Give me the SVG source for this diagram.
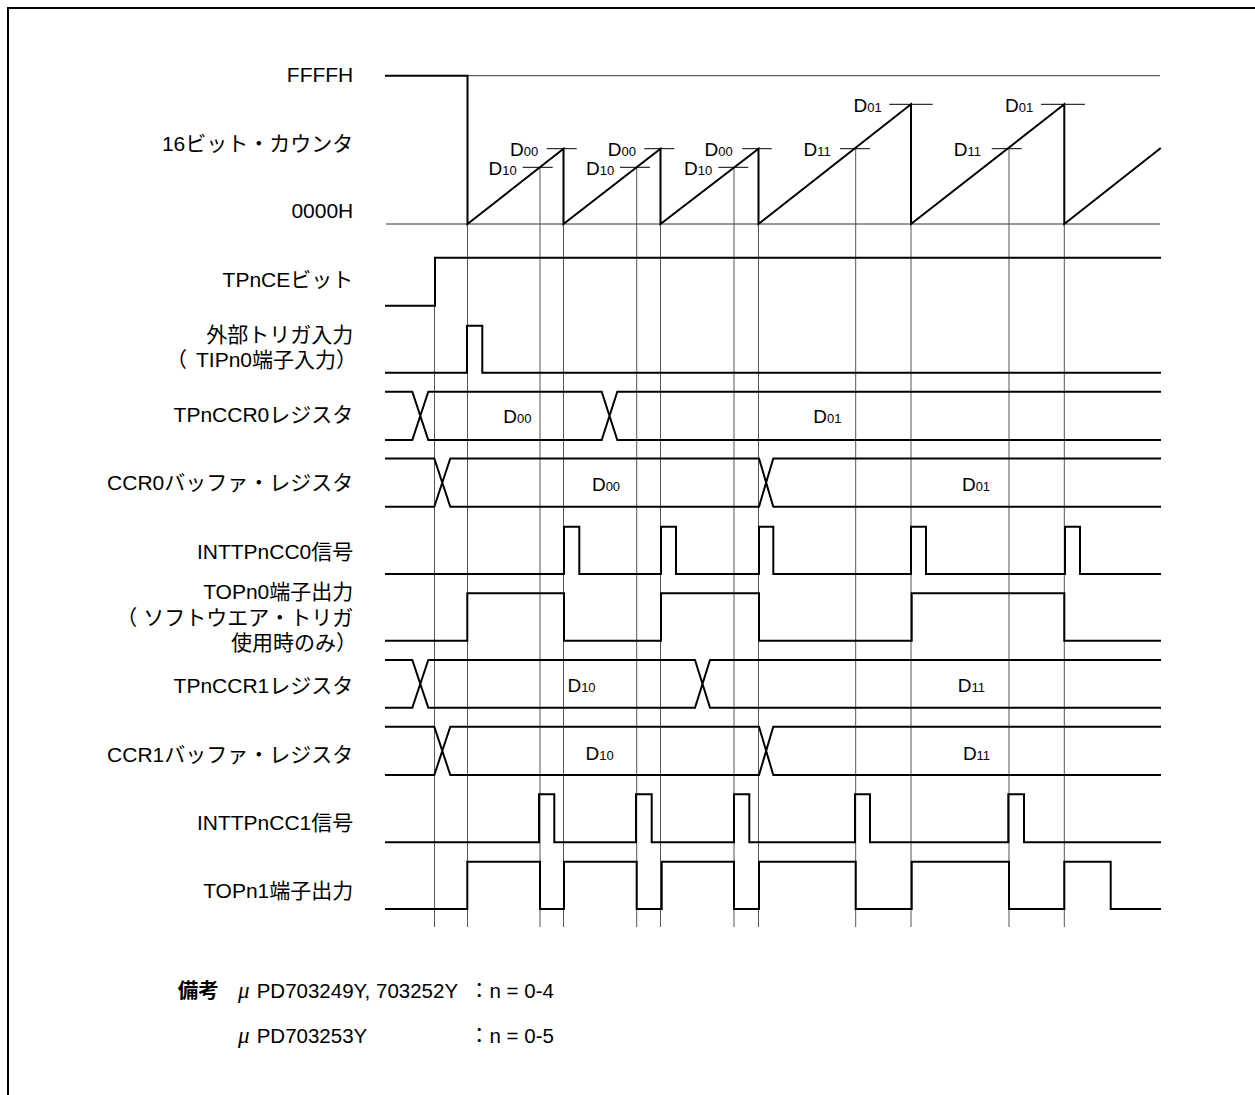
<svg xmlns="http://www.w3.org/2000/svg" width="1255" height="1095" viewBox="0 0 1255 1095">
<style>
.sig{fill:none;stroke:#000;stroke-width:2;stroke-linejoin:miter;stroke-linecap:square}
.grid{fill:none;stroke:#555;stroke-width:1}
.ref{fill:none;stroke:#333;stroke-width:1}
.tick{fill:none;stroke:#000;stroke-width:1}
.frame{fill:none;stroke:#000;stroke-width:2}
.lbl{font-family:"Liberation Sans","Noto Sans CJK JP",sans-serif;font-size:21px;text-anchor:end;fill:#000}
.d{font-family:"Liberation Sans",Arial,sans-serif;font-size:19px;fill:#000}
.dm{text-anchor:middle}
.de{text-anchor:end}
.sub{font-size:13px}
.note{font-family:"Liberation Sans","Noto Sans CJK JP",sans-serif;font-size:20.5px;fill:#000}
.mu{font-family:"Liberation Serif",serif;font-style:italic;font-size:23px}
.bold{font-weight:bold}
</style>
<rect width="1255" height="1095" fill="#fff"/>
<path class="frame" d="M8,1095 V8 H1255"/>

<g id="connectors">
  <path class="ref" d="M467.5,75.7 H1160"/>
  <path class="ref" d="M386,224 H1160"/>
  <path class="grid" d="M434.5,257.7 V927 M467.5,224 V927 M540,167.3 V927 M563.5,224 V927 M636.7,167.3 V927 M660.5,224 V927 M734,167.3 V927 M758.5,224 V927 M855.7,148.7 V927 M911,224 V927 M1009,148.7 V927 M1064.3,224 V927"/>
</g>

<g id="counter">
  <text class="lbl" x="353.3" y="81.7">FFFFH</text>
  <text class="lbl" x="353.3" y="150.5">16ビット・カウンタ</text>
  <text class="lbl" x="353.3" y="218.3">0000H</text>
  <path class="sig" d="M386,75.7 H467.5 V224 L563.5,148.7 V224 L660.5,148.7 V224 L758.5,148.7 V224 L911,104.3 V224 L1064.3,104.3 V224 L1160,148.7"/>
  <path class="tick" d="M546.7,148.7 H576.7 M644.3,148.7 H674.3 M742.3,148.7 H771.7 M522.7,167.3 H552.7 M620,167.3 H650 M718.3,167.3 H748.3 M889.3,104.3 H932.7 M1041,104.3 H1085 M840,148.7 H870 M991.7,148.7 H1021.7"/>
  <text class="d de" x="538.3" y="156">D<tspan class="sub">00</tspan></text>
  <text class="d de" x="636" y="156">D<tspan class="sub">00</tspan></text>
  <text class="d de" x="732.7" y="156">D<tspan class="sub">00</tspan></text>
  <text class="d de" x="516.7" y="175">D<tspan class="sub">10</tspan></text>
  <text class="d de" x="614.3" y="175">D<tspan class="sub">10</tspan></text>
  <text class="d de" x="712.3" y="175">D<tspan class="sub">10</tspan></text>
  <text class="d de" x="881.7" y="112.3">D<tspan class="sub">01</tspan></text>
  <text class="d de" x="1033.3" y="112.3">D<tspan class="sub">01</tspan></text>
  <text class="d de" x="830.7" y="155.7">D<tspan class="sub">11</tspan></text>
  <text class="d de" x="981" y="155.7">D<tspan class="sub">11</tspan></text>
</g>

<g id="tpnce">
  <text class="lbl" x="353.3" y="286.7">TPnCEビット</text>
  <path class="sig" d="M386,305.7 H435 V257.7 H1160"/>
</g>

<g id="trigger">
  <text class="lbl" x="353.3" y="341.7">外部トリガ入力</text>
  <text class="lbl" x="357" y="367.3">（<tspan dx="9">TIPn0端子入力）</tspan></text>
  <path class="sig" d="M386,372.7 H467 V325.7 H482.3 V372.7 H1160"/>
</g>

<g id="tpnccr0">
  <text class="lbl" x="353.3" y="421.7">TPnCCR0レジスタ</text>
  <path class="sig" d="M386,391.7 H412.3 L428.3,440 H601.7 L617.3,391.7 H1160 M386,440 H412.3 L428.3,391.7 H601.7 L617.3,440 H1160"/>
  <text class="d dm" x="517.4" y="423">D<tspan class="sub">00</tspan></text>
  <text class="d dm" x="827.3" y="423">D<tspan class="sub">01</tspan></text>
</g>

<g id="ccr0buf">
  <text class="lbl" x="353.3" y="490">CCR0バッファ・レジスタ</text>
  <path class="sig" d="M386,458.5 H434.3 L450.3,506.7 H759 L773.3,458.5 H1160 M386,506.7 H434.3 L450.3,458.5 H759 L773.3,506.7 H1160"/>
  <text class="d dm" x="606" y="490.7">D<tspan class="sub">00</tspan></text>
  <text class="d dm" x="976" y="490.7">D<tspan class="sub">01</tspan></text>
</g>

<g id="inttpncc0">
  <text class="lbl" x="353.3" y="559">INTTPnCC0信号</text>
  <path class="sig" d="M386,574 H564 V526.7 H579.3 V574 H661 V526.7 H676 V574 H759 V526.7 H773.3 V574 H911 V526.7 H926 V574 H1065 V526.7 H1080 V574 H1160"/>
</g>

<g id="topn0">
  <text class="lbl" x="353.3" y="599.3">TOPn0端子出力</text>
  <text class="lbl" x="353.3" y="625">（<tspan dx="6">ソフトウエア・トリガ</tspan></text>
  <text class="lbl" x="357" y="650">使用時のみ）</text>
  <path class="sig" d="M386,640.7 H467.3 V593.3 H564 V640.7 H661 V593.3 H759 V640.7 H911.7 V593.3 H1064.3 V640.7 H1160"/>
</g>

<g id="tpnccr1">
  <text class="lbl" x="353.3" y="693.3">TPnCCR1レジスタ</text>
  <path class="sig" d="M386,660 H412.3 L428.3,707.7 H695 L710,660 H1160 M386,707.7 H412.3 L428.3,660 H695 L710,707.7 H1160"/>
  <text class="d dm" x="581.5" y="691.7">D<tspan class="sub">10</tspan></text>
  <text class="d dm" x="971.3" y="691.7">D<tspan class="sub">11</tspan></text>
</g>

<g id="ccr1buf">
  <text class="lbl" x="353.3" y="761.7">CCR1バッファ・レジスタ</text>
  <path class="sig" d="M386,726.7 H434.3 L450.3,775 H759 L773.3,726.7 H1160 M386,775 H434.3 L450.3,726.7 H759 L773.3,775 H1160"/>
  <text class="d dm" x="599.7" y="760">D<tspan class="sub">10</tspan></text>
  <text class="d dm" x="976.5" y="760">D<tspan class="sub">11</tspan></text>
</g>

<g id="inttpncc1">
  <text class="lbl" x="353.3" y="830">INTTPnCC1信号</text>
  <path class="sig" d="M386,842.3 H539 V794.3 H554.3 V842.3 H636 V794.3 H651.7 V842.3 H734 V794.3 H749.3 V842.3 H855 V794.3 H870 V842.3 H1008.3 V794.3 H1024 V842.3 H1160"/>
</g>

<g id="topn1">
  <text class="lbl" x="353.3" y="898.3">TOPn1端子出力</text>
  <path class="sig" d="M386,909 H467.3 V861.7 H540 V909 H564 V861.7 H636.7 V909 H661.7 V861.7 H734 V909 H759 V861.7 H855.7 V909 H911.7 V861.7 H1009 V909 H1064.3 V861.7 H1110.7 V909 H1160"/>
</g>

<g id="note">
  <text class="note bold" x="177.7" y="998.3">備考</text>
  <text class="note" y="998.3"><tspan class="mu" x="238">μ</tspan><tspan x="256.7">PD703249Y, 703252Y</tspan><tspan x="469">：n = 0-4</tspan></text>
  <text class="note" y="1043.3"><tspan class="mu" x="238">μ</tspan><tspan x="256.7">PD703253Y</tspan><tspan x="469">：n = 0-5</tspan></text>
</g>
</svg>
